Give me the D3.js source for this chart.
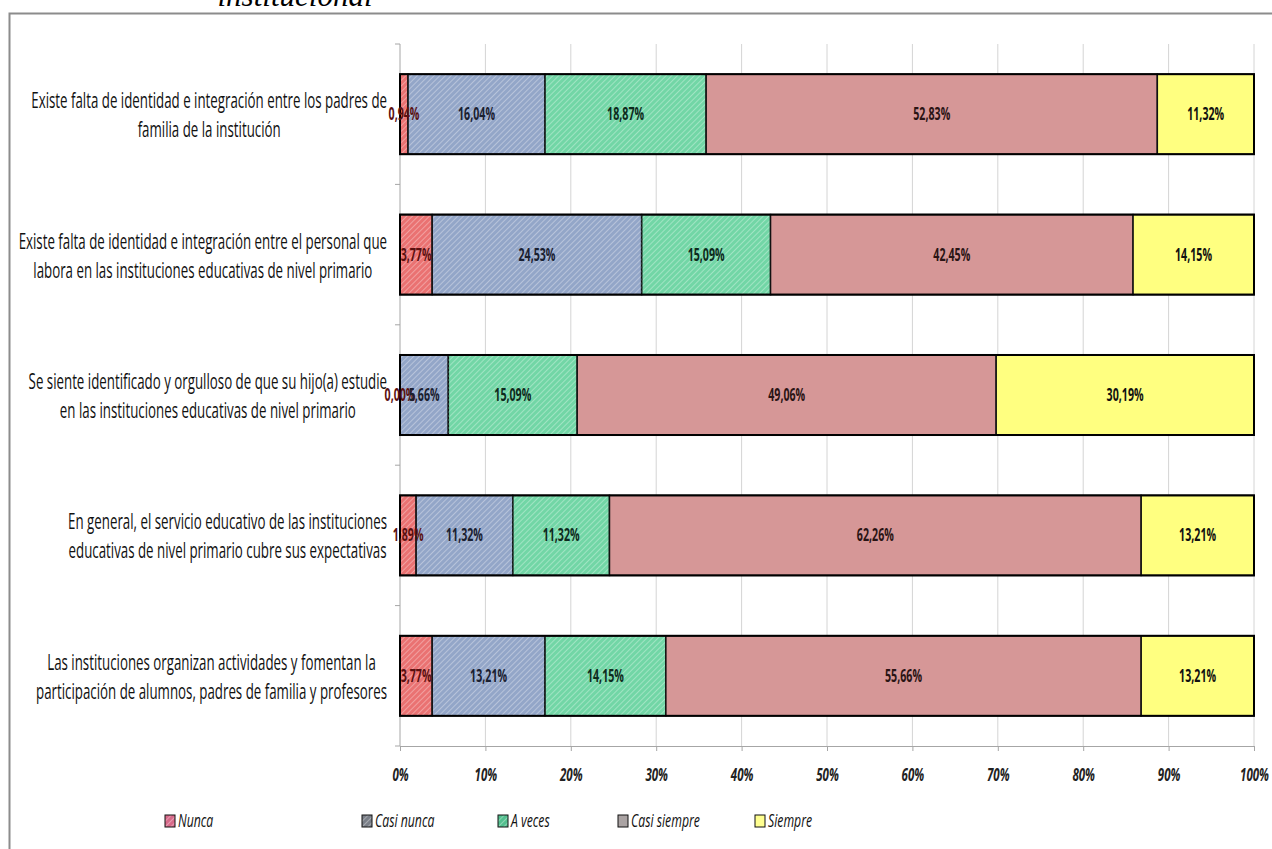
<!DOCTYPE html>
<html>
<head>
<meta charset="utf-8">
<script src="https://cdn.jsdelivr.net/npm/d3@7"></script>
<style>
  body { margin: 0; background: #fff; }
  svg { display: block; }
</style>
</head>
<body>
<div id="chart"></div>
<script>
let W = 1272, H = 849;

let categories = [
    ["Existe falta de identidad e integración entre los padres de", "familia de la institución"],
    ["Existe falta de identidad e integración entre el personal que", "labora en las instituciones educativas de nivel primario"],
    ["Se siente identificado y orgulloso de que su hijo(a) estudie", "en las instituciones educativas de nivel primario"],
    ["En general, el servicio educativo de las instituciones", "educativas de nivel primario cubre sus expectativas"],
    ["Las instituciones organizan actividades y fomentan la", "participación de alumnos, padres de familia y profesores"]
];
let seriesNames = ["Nunca", "Casi nunca", "A veces", "Casi siempre", "Siempre"];
let nunca       = [0.94, 3.77, 0.00, 1.89, 3.77];
let casiNunca   = [16.04, 24.53, 5.66, 11.32, 13.21];
let aVeces      = [18.87, 15.09, 15.09, 11.32, 14.15];
let casiSiempre = [52.83, 42.45, 49.06, 62.26, 55.66];
let siempre     = [11.32, 14.15, 30.19, 13.21, 13.21];
let xTicks = [0, 10, 20, 30, 40, 50, 60, 70, 80, 90, 100];

let colors = ["#ea7272", "#93a6c8", "#72d6a6", "#d69797", "#ffff80"];
let legendColors = ["#d86a8a", "#7a7f88", "#52bf8e", "#aaa3a3", "#ffff90"];
let hatched = [true, true, true, false, false];
let FONT = "Open Sans, Noto Sans, sans-serif";

let svg = d3.select("#chart").append("svg")
    .attr("width", W)
    .attr("height", H);

// horizontal squeeze so text reads like the narrow Calibri of the original
function squeeze(sel, sample, target) {
    let probe = svg.append("text").text(sample)
        .style("font-family", sel.style("font-family"))
        .style("font-size", sel.style("font-size"))
        .style("font-weight", sel.style("font-weight"))
        .style("font-style", sel.style("font-style"));
    let k = target / probe.node().getComputedTextLength();
    probe.remove();
    return k;
}

// patterns
let defs = svg.append("defs");
colors.concat(legendColors).forEach((c, i) => {
    let p = defs.append("pattern")
        .attr("id", "hatch" + i)
        .attr("patternUnits", "userSpaceOnUse")
        .attr("width", 4)
        .attr("height", 4)
        .attr("patternTransform", "rotate(45)");
    p.append("rect").attr("width", 4).attr("height", 4).attr("fill", c);
    p.append("line")
        .attr("x1", 0).attr("y1", 0).attr("x2", 0).attr("y2", 4)
        .attr("stroke", "#ffffff").attr("stroke-opacity", 0.55).attr("stroke-width", 1.2);
});

// cut-off heading above frame
svg.append("text")
    .text("institucional")
    .attr("x", 295)
    .attr("y", 6)
    .attr("text-anchor", "middle")
    .style("font-family", "Liberation Serif, serif")
    .style("font-style", "italic")
    .style("font-size", "31px")
    .attr("fill", "#000");

// frame
svg.append("path")
    .attr("d", `M9.5,${H} L9.5,13.5 L${W},13.5`)
    .attr("fill", "none")
    .attr("stroke", "#8c8c8c")
    .attr("stroke-width", 2);

let x = d3.scaleLinear().domain([0, 100]).range([400, 1254]);
let y = d3.scaleBand().domain(d3.range(categories.length)).range([44, 746]).paddingInner(0.43).paddingOuter(0.215);

// gridlines
svg.append("g")
    .selectAll("line")
    .data(xTicks.slice(1))
    .enter()
    .append("line")
    .attr("x1", d => x(d)).attr("x2", d => x(d))
    .attr("y1", 44).attr("y2", 746)
    .attr("stroke", "#d4d4d4")
    .attr("stroke-width", 1);

// x axis
let xAxis = svg.append("g")
    .attr("transform", "translate(0,746)")
    .call(d3.axisBottom(x).tickValues(xTicks).tickSize(5).tickFormat(d => d + "%"));
xAxis.select(".domain").attr("stroke", "#a6a6a6");
xAxis.selectAll(".tick line").attr("stroke", "#a6a6a6");
let tickText = xAxis.selectAll("text")
    .attr("y", 0)
    .attr("dy", 0)
    .attr("fill", "#222")
    .style("font-family", FONT)
    .style("font-style", "italic")
    .style("font-weight", "bold")
    .style("font-size", "17px");
let kTick = squeeze(tickText, "100%", 29);
tickText.attr("transform", `translate(0,35) scale(${kTick},1)`);

// y axis (category boundaries)
let yAxisG = svg.append("g");
yAxisG.append("line")
    .attr("x1", 400).attr("x2", 400).attr("y1", 44).attr("y2", 746)
    .attr("stroke", "#a6a6a6");
let yStep = (y.range()[1] - y.range()[0]) / categories.length;
yAxisG.selectAll(".bt")
    .data(d3.range(categories.length + 1))
    .enter()
    .append("line")
    .attr("x1", 395).attr("x2", 400)
    .attr("y1", i => y.range()[0] + i * yStep)
    .attr("y2", i => y.range()[0] + i * yStep)
    .attr("stroke", "#a6a6a6");

// category labels: block right-aligned at the axis, lines centred in the block
let catG = svg.append("g").selectAll("g")
    .data(categories)
    .enter()
    .append("g");
let catLabels = catG.append("text")
    .attr("text-anchor", "middle")
    .attr("fill", "#111")
    .style("font-family", FONT)
    .style("font-size", "22.5px");
catLabels.selectAll("tspan")
    .data(d => d)
    .enter()
    .append("tspan")
    .attr("x", 0)
    .attr("y", (d, j) => j === 0 ? -6 : 23)
    .text(d => d);
let kCat = squeeze(catLabels, categories[0][0], 356);
catLabels.attr("transform", `scale(${kCat},1)`);
catG.attr("transform", function (d, i) {
    let widest = d3.max(d3.select(this).selectAll("tspan").nodes(), n => n.getComputedTextLength()) * kCat;
    return `translate(${387 - widest / 2}, ${y(i) + y.bandwidth() / 2})`;
});

// stacked data
let table = categories.map((c, i) => ({
    i: i,
    values: [nunca[i], casiNunca[i], aVeces[i], casiSiempre[i], siempre[i]]
}));
let stack = d3.stack().keys(d3.range(5)).value((d, k) => d.values[k]);
let stacked = stack(table);
let segments = stacked.flatMap(layer => layer.map(s => ({ s: s, k: layer.key })));

svg.append("g").selectAll("rect")
    .data(segments)
    .enter()
    .append("rect")
    .attr("x", d => x(d.s[0]))
    .attr("y", d => y(d.s.data.i))
    .attr("width", d => x(d.s[1]) - x(d.s[0]))
    .attr("height", y.bandwidth())
    .attr("fill", d => hatched[d.k] ? `url(#hatch${d.k})` : colors[d.k])
    .attr("stroke", "#111")
    .attr("stroke-width", 1.5);

// dashed separator between Casi nunca and A veces
svg.append("g").selectAll("line")
    .data(stacked[1])
    .enter()
    .append("line")
    .attr("x1", d => x(d[1])).attr("x2", d => x(d[1]))
    .attr("y1", d => y(d.data.i)).attr("y2", d => y(d.data.i) + y.bandwidth())
    .attr("stroke", "#2a3a3a")
    .attr("stroke-width", 1.2)
    .attr("stroke-dasharray", "2,2");

// outer bar border
svg.append("g").selectAll("rect")
    .data(table)
    .enter()
    .append("rect")
    .attr("x", x(0))
    .attr("y", d => y(d.i))
    .attr("width", x(100) - x(0))
    .attr("height", y.bandwidth())
    .attr("fill", "none")
    .attr("stroke", "#000")
    .attr("stroke-width", 2);

// value labels (drawn after all bars)
let labelColors = ["#5a1010", "#1a2030", "#0e2a1c", "#2a1414", "#111"];
let valLabels = svg.append("g").selectAll("text")
    .data(segments)
    .enter()
    .append("text")
    .attr("text-anchor", "middle")
    .attr("fill", d => labelColors[d.k])
    .style("font-family", FONT)
    .style("font-weight", "bold")
    .style("font-size", "17px")
    .text(d => (d.s[1] - d.s[0]).toFixed(2).replace(".", ",") + "%");
let kVal = squeeze(valLabels, "16,04%", 37);
valLabels.attr("transform", d =>
    `translate(${(x(d.s[0]) + x(d.s[1])) / 2}, ${y(d.s.data.i) + y.bandwidth() / 2 + 6}) scale(${kVal},1)`);

// legend
let legendX = [165, 362, 498, 618, 755];
let legend = svg.append("g").selectAll("g")
    .data(seriesNames)
    .enter()
    .append("g")
    .attr("transform", (d, i) => `translate(${legendX[i]}, 815)`);
legend.append("rect")
    .attr("width", 10).attr("height", 12)
    .attr("fill", (d, i) => hatched[i] ? `url(#hatch${i + 5})` : legendColors[i])
    .attr("stroke", "#111")
    .attr("stroke-width", 1);
let legText = legend.append("text")
    .attr("fill", "#111")
    .style("font-family", FONT)
    .style("font-style", "italic")
    .style("font-size", "18px")
    .text(d => d);
let kLeg = squeeze(legText, "Casi siempre", 69);
legText.attr("transform", `translate(13,12) scale(${kLeg},1)`);
</script>
</body>
</html>
